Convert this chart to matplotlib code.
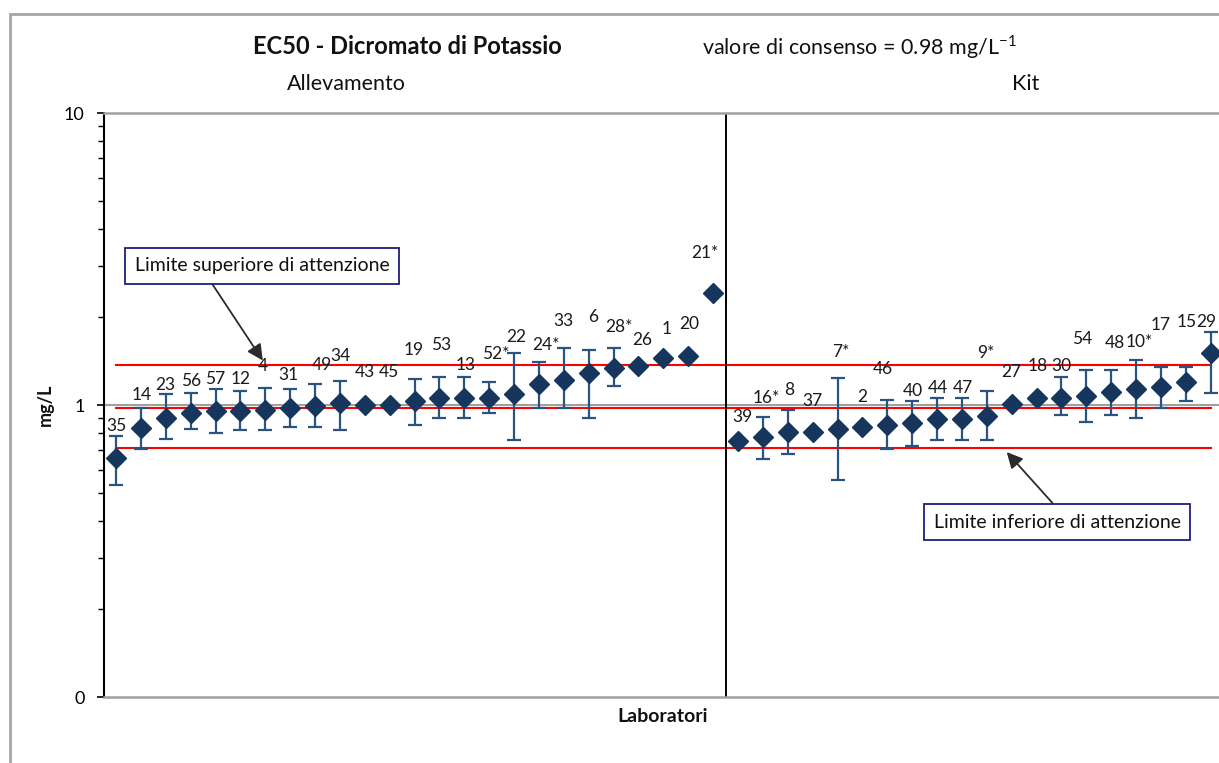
import numpy as np
import matplotlib
matplotlib.use("Agg")
import matplotlib.pyplot as plt
from matplotlib.patches import Rectangle
from matplotlib.ticker import FixedLocator, FixedFormatter, LogLocator, NullFormatter

plt.rcParams['font.family'] = ['Lato', 'DejaVu Sans']

# ---------------- data ----------------
alle_labels = ["35", "14", "23", "56", "57", "12", "4", "31", "49", "34", "43", "45", "19",
               "53", "13", "52*", "22", "24*", "33", "6", "28*", "26", "1", "20", "21*"]
alle_values = [0.658, 0.834, 0.905, 0.941, 0.954, 0.954, 0.961, 0.979, 0.992, 1.013, 1.000,
               1.000, 1.030, 1.059, 1.059, 1.059, 1.088, 1.177, 1.221, 1.290, 1.342, 1.360,
               1.452, 1.468, 2.418]
alle_upper = [0.783, 0.974, 1.088, 1.102, 1.132, 1.117, 1.146, 1.132, 1.180, 1.211, np.nan,
              np.nan, 1.225, 1.247, 1.247, 1.196, 1.503, 1.404, 1.567, 1.543, 1.567, np.nan,
              np.nan, np.nan, np.nan]
alle_lower = [0.532, 0.707, 0.765, 0.829, 0.800, 0.819, 0.819, 0.841, 0.841, 0.819, np.nan,
              np.nan, 0.854, 0.900, 0.900, 0.939, 0.757, 0.977, 0.977, 0.900, 1.164, np.nan,
              np.nan, np.nan, np.nan]

kit_labels = ["39", "16*", "8", "37", "7*", "2", "46", "40", "44", "47", "9*", "27", "18",
              "30", "54", "48", "10*", "17", "15", "29"]
kit_values = [0.755, 0.775, 0.806, 0.806, 0.825, 0.839, 0.856, 0.866, 0.893, 0.893, 0.917,
              1.005, 1.057, 1.057, 1.071, 1.105, 1.132, 1.155, 1.196, 1.503]
kit_upper = [np.nan, 0.912, 0.961, np.nan, 1.240, np.nan, 1.043, 1.030, 1.057, 1.057, 1.117,
             np.nan, np.nan, 1.244, 1.315, 1.315, 1.426, 1.352, 1.352, 1.783]
kit_lower = [np.nan, 0.652, 0.678, np.nan, 0.553, np.nan, 0.708, 0.724, 0.757, 0.757, 0.757,
             np.nan, np.nan, 0.922, 0.877, 0.924, 0.900, 0.979, 1.032, 1.097]

consensus = 0.98
limit_upper = 1.37
limit_lower = 0.715

ytick_values = [0.1, 1, 10]
ytick_labels = ["0", "1", "10"]

# label placement (layout, pixels: dx, dy above the point)
label_dx = [0, 1, 0, 0, 0, 0, -2, -2, 7, 1, 0, -1, -1, 2, 1, 7, 2, 7, 0, 4, 5, 4, 3, 1, -8,
            4, 3, 1, 0, 3, 0, -4, 1, 1, 1, -1, 0, 1, 0, -4, 4, 3, 0, 1, -4]
label_dy = [32, 33, 33, 32, 32, 32, 44, 33, 41, 47, 33, 33, 51, 53, 33, 44, 57, 39, 59, 56,
            41, 26, 29, 32, 40,
            24, 39, 42, 31, 77, 30, 56, 32, 31, 31, 63, 32, 32, 32, 57, 49, 47, 62, 60, 31]

# ---------------- figure ----------------
W, H = 1219, 763
fig = plt.figure(figsize=(W / 100, H / 100), dpi=100)

def fx(px):
    return px / W

def fy(py):
    return 1 - py / H

# outer grey border
fig.add_artist(Rectangle((fx(10), -0.05), 1.2, fy(14) + 0.05, transform=fig.transFigure,
                         fill=False, edgecolor='#A6A6A6', lw=2))

ax_left, ax_right, ax_top, ax_bot = 104, 1219, 113, 697
ax = fig.add_axes([fx(ax_left), fy(ax_bot), fx(ax_right - ax_left), (ax_bot - ax_top) / H])

labels = alle_labels + kit_labels
values = np.array(alle_values + kit_values)
upper = np.array(alle_upper + kit_upper)
lower = np.array(alle_lower + kit_lower)
x = np.arange(1, len(values) + 1)

marker_color = '#17365D'
err_color = '#2A5380'

mask = ~np.isnan(upper)
ax.errorbar(x[mask], values[mask],
            yerr=[values[mask] - lower[mask], upper[mask] - values[mask]],
            fmt='none', ecolor=err_color, elinewidth=1.6, capsize=5, capthick=1.6, zorder=3)

# reference lines
ax.plot([x[0], x[-1]], [limit_upper, limit_upper], color='#FF0000', lw=1.5, zorder=2)
ax.plot([x[0], x[-1]], [consensus, consensus], color='#FF0000', lw=1.5, zorder=2)
ax.plot([x[0], x[-1]], [limit_lower, limit_lower], color='#FF0000', lw=1.5, zorder=2)

ax.plot(x, values, linestyle='none', marker='D', ms=10.5, color=marker_color,
        markeredgecolor=marker_color, zorder=4)

n_alle = len(alle_values)
ax.axvline(n_alle + 0.5, color='black', lw=1.4, zorder=2)

for xi, v, lab, dx, dy in zip(x, values, labels, label_dx, label_dy):
    ax.annotate(lab, (xi, v), xytext=(dx, dy), textcoords='offset pixels',
                ha='center', va='center', fontsize=12.5, color='#1a1a1a', zorder=5,
                annotation_clip=False)

ax.set_yscale('log')
ax.set_ylim(0.1, 10)
ax.set_xlim(1 + (ax_left - 116) / 24.88, 1 + (ax_right - 116) / 24.88)

ax.yaxis.set_major_locator(FixedLocator(ytick_values))
ax.yaxis.set_major_formatter(FixedFormatter(ytick_labels))
ax.yaxis.set_minor_locator(LogLocator(base=10, subs=np.arange(2, 10)))
ax.yaxis.set_minor_formatter(NullFormatter())
ax.tick_params(axis='y', which='major', length=5, width=1.2, direction='out',
               labelsize=13, colors='black', pad=9)
ax.tick_params(axis='y', which='minor', length=4, width=1, direction='out')
ax.set_xticks([])

ax.grid(False)
ax.axhline(1, color='#A0A0A0', lw=1.5, zorder=1)
for s in ['top', 'bottom']:
    ax.spines[s].set_color('#A0A0A0')
    ax.spines[s].set_linewidth(1.8)
ax.spines['right'].set_visible(False)
ax.spines['left'].set_color('black')
ax.spines['left'].set_linewidth(1.5)

# texts
fig.text(fx(407), fy(46), "EC50 - Dicromato di Potassio", ha='center', va='center',
         fontsize=17, fontweight='bold', color='#111111')
fig.text(fx(859), fy(47), r"valore di consenso = 0.98 mg/L$^{\mathregular{-1}}$",
         ha='center', va='center', fontsize=15.5, color='#111111')
fig.text(fx(346), fy(84), "Allevamento", ha='center', va='center', fontsize=15.5,
         color='#111111')
fig.text(fx(1026), fy(84), "Kit", ha='center', va='center', fontsize=15.5, color='#111111')
fig.text(fx(45), fy(405), "mg/L", ha='center', va='center', rotation=90, fontsize=13,
         fontweight='bold', color='#111111')
fig.text(fx(663), fy(717), "Laboratori", ha='center', va='center', fontsize=14,
         fontweight='bold', color='#111111')

box_style = dict(boxstyle='square,pad=0.5', facecolor='white', edgecolor='#1F1F7A', lw=1.3)
arrow_style = dict(arrowstyle='-|>', color='#2b2b2b', lw=1.3, mutation_scale=24,
                   shrinkA=0, shrinkB=0)

ax.annotate("Limite superiore di attenzione", xy=(6.9, 1.42), xycoords='data',
            xytext=(fx(262), fy(266)), textcoords='figure fraction',
            ha='center', va='center', fontsize=14, color='#111111', bbox=box_style,
            arrowprops=dict(arrow_style, relpos=(0.28, 0.0)), annotation_clip=False)
ax.annotate("Limite inferiore di attenzione", xy=(36.8, 0.69), xycoords='data',
            xytext=(fx(1057), fy(522)), textcoords='figure fraction',
            ha='center', va='center', fontsize=14, color='#111111', bbox=box_style,
            arrowprops=dict(arrow_style, relpos=(0.52, 1.0)), annotation_clip=False)

fig.savefig("out.png", dpi=100)
